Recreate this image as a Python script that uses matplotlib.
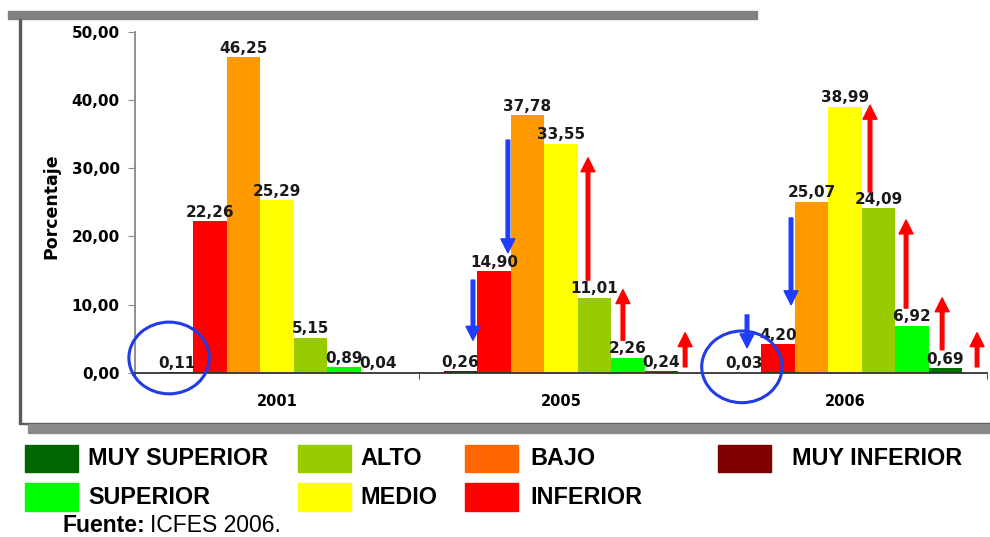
import numpy as np
import matplotlib
matplotlib.use("Agg")
import matplotlib.pyplot as plt
from matplotlib.patches import Ellipse, Rectangle

years = ["2001", "2005", "2006"]
niveles = ["MUY INFERIOR", "INFERIOR", "BAJO", "MEDIO", "ALTO", "SUPERIOR", "MUY SUPERIOR"]

muy_inferior = [0.11, 0.26, 0.03]
inferior = [22.26, 14.90, 4.20]
bajo = [46.25, 37.78, 25.07]
medio = [25.29, 33.55, 38.99]
alto = [5.15, 11.01, 24.09]
superior = [0.89, 2.26, 6.92]
muy_superior = [0.04, 0.24, 0.69]

colores = ["#800000", "#FF0000", "#FF9900", "#FFFF00", "#99CC00", "#00FF00", "#007000"]
colores_leyenda = {"MUY SUPERIOR": "#006600", "ALTO": "#99CC00", "BAJO": "#FF6600",
                   "MUY INFERIOR": "#800000", "SUPERIOR": "#00FF00", "MEDIO": "#FFFF00",
                   "INFERIOR": "#FF0000"}

# flechas (x, y_inicio, y_fin) en unidades del eje
flechas_azules = [(0.690, 13.6, 4.8), (0.813, 34.1, 17.6), (1.655, 8.5, 3.7), (1.810, 22.7, 10.0)]
flechas_rojas = [(1.095, 13.6, 31.5), (1.218, 4.8, 12.2), (1.437, 0.9, 5.9),
                 (2.088, 26.5, 39.2), (2.215, 9.5, 22.4), (2.342, 3.4, 11.0), (2.465, 0.9, 5.9)]
circulos = [(-0.380, 2.2), (1.637, 0.9)]

series = [muy_inferior, inferior, bajo, medio, alto, superior, muy_superior]

W, H = 990, 537
fig = plt.figure(figsize=(W / 100, H / 100), dpi=100)


def fx(px):
    return px / W


def fy(py):
    return 1 - py / H


ax = fig.add_axes([fx(135), fy(373), fx(987) - fx(135), fy(31.5) - fy(373)])

x = np.arange(len(years))
ancho = 0.118
for k, (vals, c) in enumerate(zip(series, colores)):
    pos = x + (k - 3) * ancho
    ax.bar(pos, vals, width=ancho, color=c, edgecolor="none", zorder=2)
    for xi, v in zip(pos, vals):
        ax.annotate(f"{v:.2f}".replace(".", ","), (xi, v), xytext=(0, 1),
                    textcoords="offset points", ha="center", va="bottom",
                    fontsize=11, fontweight="bold", color="#1a1a1a", zorder=4)

ax.set_xlim(-0.5, 2.5)
ax.set_ylim(0, 50)
ax.set_yticks(np.arange(0, 51, 10))
ax.set_yticklabels([f"{t:.2f}".replace(".", ",") for t in np.arange(0, 51, 10)],
                   fontsize=11, fontweight="bold")
ax.set_xticks(x)
ax.set_xticklabels(years, fontsize=10.5, fontweight="bold")
ax.set_xticks([-0.5, 0.5, 1.5, 2.5], minor=True)
ax.tick_params(axis="x", which="major", length=0, pad=15)
ax.tick_params(axis="x", which="minor", length=4, direction="out", color="#333333")
ax.tick_params(axis="y", length=5, color="#888888", pad=6)
for s in ["top", "right"]:
    ax.spines[s].set_visible(False)
ax.spines["left"].set_color("#888888")
ax.spines["left"].set_linewidth(1.3)
ax.spines["bottom"].set_color("#333333")
ax.spines["bottom"].set_linewidth(1.3)

fig.text(fx(51), fy(206), "Porcentaje", rotation=90, ha="center", va="center",
         fontsize=12.5, fontweight="bold")

for xa, y0, y1 in flechas_azules:
    ax.annotate("", xy=(xa, y1), xytext=(xa, y0), annotation_clip=False,
                arrowprops=dict(facecolor="#1f3cff", edgecolor="#1f3cff", width=2.6,
                                headwidth=10, headlength=10, shrink=0), zorder=5)
for xa, y0, y1 in flechas_rojas:
    ax.annotate("", xy=(xa, y1), xytext=(xa, y0), annotation_clip=False,
                arrowprops=dict(facecolor="#ff0000", edgecolor="#ff0000", width=2.6,
                                headwidth=10, headlength=10, shrink=0), zorder=5)
for cx, cy in circulos:
    ax.add_patch(Ellipse((cx, cy), 0.283, 10.5, fill=False, edgecolor="#1f3ce6",
                         lw=2.2, clip_on=False, zorder=5))

# marco con sombra
fig.patches.append(Rectangle((fx(8), fy(19)), fx(757) - fx(8), fy(11) - fy(19),
                             transform=fig.transFigure, color="#808080", zorder=0))
fig.patches.append(Rectangle((fx(19), fy(423)), fx(2), fy(19) - fy(423),
                             transform=fig.transFigure, color="#5a5a5a", zorder=0))
fig.patches.append(Rectangle((fx(19), fy(424)), fx(990) - fx(19), 1.5 / H,
                             transform=fig.transFigure, color="#5a5a5a", zorder=0))
fig.patches.append(Rectangle((fx(28), fy(433)), fx(990) - fx(28), fy(424) - fy(433),
                             transform=fig.transFigure, color="#8a8a8a", zorder=0))

# leyenda
leyenda = [("MUY SUPERIOR", 25, 88, 0), ("ALTO", 298, 360, 0), ("BAJO", 465, 530, 0),
           ("MUY INFERIOR", 718, 792, 0), ("SUPERIOR", 25, 88, 1), ("MEDIO", 298, 360, 1),
           ("INFERIOR", 465, 530, 1)]
filas = [(445, 472), (483, 511)]
for nombre, xp, xt, fila in leyenda:
    top, bot = filas[fila]
    fig.patches.append(Rectangle((fx(xp), fy(bot)), fx(53), fy(top) - fy(bot),
                                 transform=fig.transFigure,
                                 color=colores_leyenda[nombre]))
    fig.text(fx(xt), fy((top + bot) / 2), nombre, ha="left", va="center",
             fontsize=16.8, fontweight="bold", family="Liberation Sans")

t = fig.text(fx(62), fy(525), "Fuente:", ha="left", va="center", fontsize=16.5,
             fontweight="bold", family="Liberation Sans")
fig.canvas.draw()
bb = t.get_window_extent()
fig.text(bb.x1 / W + fx(5), fy(525), "ICFES 2006.", ha="left", va="center",
         fontsize=16.5, family="Liberation Sans")

fig.savefig("out.png", dpi=100)
